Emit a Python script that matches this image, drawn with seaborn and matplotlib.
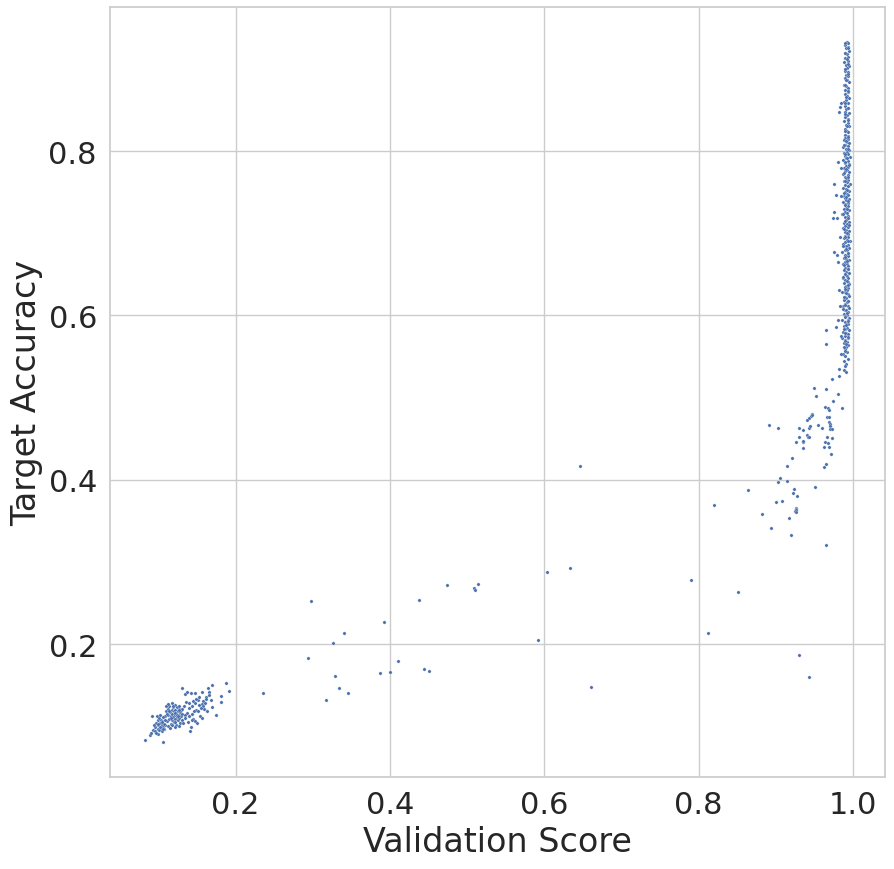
# ============================================
# Validation Score vs Target Accuracy
# Scatter plot
# ============================================

import numpy as np
import matplotlib
matplotlib.use("Agg")
import matplotlib.pyplot as plt
import seaborn as sns


# ============================================
# Data
# ============================================

# Low-score cluster
cluster_x = [
    0.108, 0.110, 0.111, 0.112, 0.113, 0.114, 0.114, 0.115, 0.116, 0.116,
    0.117, 0.117, 0.118, 0.118, 0.119, 0.119, 0.120, 0.120, 0.121, 0.121,
    0.122, 0.122, 0.123, 0.123, 0.124, 0.124, 0.125, 0.125, 0.126, 0.126,
    0.127, 0.127, 0.128, 0.128, 0.129, 0.129, 0.130, 0.130, 0.112, 0.115,
    0.110, 0.109, 0.113, 0.121, 0.126,
    0.083, 0.089, 0.091, 0.093, 0.095, 0.092, 0.098, 0.096, 0.097, 0.099,
    0.099, 0.100, 0.101, 0.101, 0.102, 0.103, 0.103, 0.104, 0.105, 0.105,
    0.106, 0.106, 0.107, 0.107, 0.108, 0.100, 0.097, 0.106, 0.094, 0.102,
    0.131, 0.134, 0.137, 0.142, 0.148, 0.151, 0.149, 0.156, 0.164, 0.170,
    0.165, 0.158, 0.156, 0.158, 0.170, 0.163, 0.149, 0.151, 0.154, 0.156,
    0.145, 0.143, 0.147, 0.150, 0.141, 0.142, 0.132, 0.137, 0.134, 0.131,
    0.133, 0.136, 0.139, 0.144, 0.146, 0.152, 0.160, 0.162, 0.166, 0.175,
    0.181, 0.181, 0.188, 0.192, 0.168, 0.140, 0.138, 0.153, 0.159, 0.145,
    0.111, 0.114, 0.116, 0.119, 0.121, 0.124, 0.127, 0.118, 0.122, 0.125,
    0.104, 0.102, 0.099, 0.106, 0.135, 0.139, 0.143, 0.148, 0.155, 0.161,
]
cluster_y = [
    0.112, 0.118, 0.106, 0.121, 0.114, 0.109, 0.125, 0.117, 0.103, 0.112,
    0.120, 0.128, 0.108, 0.115, 0.123, 0.111, 0.118, 0.105, 0.113, 0.126,
    0.109, 0.120, 0.116, 0.102, 0.123, 0.111, 0.118, 0.107, 0.114, 0.121,
    0.110, 0.125, 0.117, 0.104, 0.112, 0.120, 0.108, 0.115, 0.100, 0.098,
    0.124, 0.102, 0.127, 0.099, 0.100,
    0.083, 0.089, 0.092, 0.095, 0.094, 0.112, 0.112, 0.099, 0.104, 0.097,
    0.107, 0.101, 0.095, 0.110, 0.104, 0.098, 0.108, 0.101, 0.094, 0.106,
    0.099, 0.111, 0.103, 0.096, 0.107, 0.091, 0.092, 0.081, 0.102, 0.114,
    0.146, 0.139, 0.141, 0.140, 0.140, 0.132, 0.133, 0.141, 0.147, 0.150,
    0.142, 0.131, 0.127, 0.125, 0.123, 0.119, 0.120, 0.118, 0.112, 0.110,
    0.109, 0.107, 0.106, 0.104, 0.094, 0.099, 0.104, 0.116, 0.114, 0.121,
    0.125, 0.130, 0.128, 0.124, 0.118, 0.126, 0.128, 0.135, 0.138, 0.113,
    0.137, 0.129, 0.153, 0.143, 0.132, 0.112, 0.105, 0.135, 0.121, 0.131,
    0.115, 0.119, 0.110, 0.124, 0.116, 0.114, 0.120, 0.101, 0.105, 0.112,
    0.105, 0.099, 0.103, 0.097, 0.110, 0.122, 0.115, 0.128, 0.122, 0.133,
]

# Scattered middle points
middle_x = [
    0.6458, 0.6031, 0.6329, 0.7907, 0.2978, 0.3922, 0.3405, 0.3263, 0.4375, 0.4737,
    0.5087, 0.5100, 0.5139, 0.5915, 0.2939, 0.4104, 0.3289, 0.3871, 0.4000, 0.4440,
    0.4505, 0.3340, 0.3457, 0.3172, 0.2357, 0.6600, 0.8127, 0.8515, 0.9433, 0.9304,
]
middle_y = [
    0.4163, 0.2875, 0.2923, 0.2778, 0.2522, 0.2267, 0.2134, 0.2012, 0.2535, 0.2717,
    0.2680, 0.2660, 0.2729, 0.2049, 0.1830, 0.1793, 0.1611, 0.1648, 0.1660, 0.1696,
    0.1672, 0.1465, 0.1405, 0.1320, 0.1405, 0.1478, 0.2134, 0.2632, 0.1599, 0.1866,
]

# Rising part near score 0.9
ramp_x = [
    0.9653, 0.9200, 0.8942, 0.8825, 0.9175, 0.8205, 0.8644, 0.9006, 0.9084, 0.9245,
    0.9255, 0.9262, 0.9266, 0.9266, 0.9227, 0.9240, 0.9279, 0.9511, 0.9033, 0.9058,
    0.9149, 0.9149, 0.9214, 0.9627, 0.9653, 0.9718, 0.9356, 0.9265, 0.9356, 0.9356,
    0.9304, 0.9410, 0.9423, 0.9436, 0.9627, 0.9692, 0.9640, 0.9679, 0.9731, 0.9666,
    0.8916, 0.9032, 0.9304, 0.9356, 0.9430, 0.9442, 0.9410, 0.9436, 0.9462, 0.9475,
    0.9472, 0.9550, 0.9602, 0.9666, 0.9692, 0.9692, 0.9705, 0.9705, 0.9705, 0.9731,
    0.9640, 0.9679, 0.9692, 0.9861, 0.9744, 0.9809, 0.9498, 0.9524, 0.9653, 0.9731,
    0.9822, 0.9880, 0.9910,
]
ramp_y = [
    0.3203, 0.3324, 0.3409, 0.3580, 0.3531, 0.3689, 0.3871, 0.3725, 0.3737, 0.3620,
    0.3655, 0.3640, 0.3628, 0.3610, 0.3834, 0.3883, 0.3798, 0.3908, 0.3968, 0.4017,
    0.3980, 0.4163, 0.4260, 0.4151, 0.4187, 0.4309, 0.4381, 0.4454, 0.4464, 0.4476,
    0.4515, 0.4550, 0.4525, 0.4525, 0.4394, 0.4394, 0.4454, 0.4442, 0.4503, 0.4515,
    0.4661, 0.4625, 0.4625, 0.4600, 0.4625, 0.4650, 0.4722, 0.4746, 0.4770, 0.4795,
    0.4783, 0.4661, 0.4625, 0.4758, 0.4758, 0.4697, 0.4673, 0.4649, 0.4612, 0.4612,
    0.4880, 0.4867, 0.4843, 0.4867, 0.4952, 0.5038, 0.5122, 0.5013, 0.5110, 0.5220,
    0.5268, 0.5340, 0.5310,
]

# Dense column at score ~0.99
column_x = [
    0.992, 0.994, 0.990, 0.993, 0.991, 0.995, 0.989, 0.992, 0.994, 0.990,
    0.993, 0.988, 0.991, 0.995, 0.992, 0.989, 0.994, 0.991, 0.993, 0.990,
    0.992, 0.995, 0.988, 0.991, 0.994, 0.990, 0.993, 0.989, 0.992, 0.995,
    0.991, 0.988, 0.994, 0.990, 0.993, 0.991, 0.989, 0.995, 0.992, 0.990,
    0.994, 0.988, 0.993, 0.991, 0.995, 0.989, 0.992, 0.994, 0.990, 0.993,
    0.990, 0.994, 0.988, 0.992, 0.995, 0.989, 0.993, 0.987, 0.991, 0.995,
    0.992, 0.988, 0.994, 0.990, 0.996, 0.991, 0.987, 0.993, 0.989, 0.995,
    0.991, 0.994, 0.988, 0.992, 0.990, 0.995, 0.987, 0.993, 0.989, 0.991,
    0.994, 0.988, 0.992, 0.996, 0.990, 0.993, 0.987, 0.991, 0.995, 0.989,
    0.992, 0.994, 0.988, 0.990, 0.995, 0.991, 0.987, 0.993, 0.989, 0.994,
    0.991, 0.988, 0.995, 0.990, 0.992, 0.986, 0.994, 0.989, 0.993, 0.991,
    0.995, 0.988, 0.992, 0.990, 0.994, 0.987, 0.991, 0.995, 0.989, 0.993,
    0.990, 0.994, 0.988, 0.992, 0.996, 0.990, 0.987, 0.993, 0.991, 0.995,
    0.989, 0.992, 0.986, 0.994, 0.990, 0.993, 0.988, 0.991, 0.995, 0.989,
    0.992, 0.987, 0.994, 0.990, 0.993, 0.988, 0.991, 0.995, 0.989, 0.992,
    0.994, 0.987, 0.990, 0.993, 0.988, 0.995, 0.991, 0.989, 0.994, 0.992,
    0.990, 0.986, 0.993, 0.995, 0.989, 0.991, 0.988, 0.994, 0.992, 0.990,
    0.993, 0.987, 0.995, 0.989, 0.991, 0.994, 0.988, 0.992, 0.990, 0.995,
    0.986, 0.993, 0.989, 0.991, 0.994, 0.988, 0.992, 0.990, 0.995, 0.987,
    0.991, 0.993, 0.989, 0.994, 0.986, 0.990, 0.992, 0.988, 0.993, 0.991,
    0.989, 0.992, 0.987, 0.990, 0.993, 0.988, 0.991, 0.989,
    0.983, 0.984, 0.982, 0.980, 0.975, 0.978, 0.975, 0.974, 0.979, 0.983,
    0.975, 0.979, 0.981, 0.982, 0.965, 0.965, 0.978, 0.980, 0.982, 0.984,
    0.985, 0.983, 0.985, 0.984,
    0.990, 0.993, 0.989, 0.992, 0.994, 0.990, 0.993, 0.991, 0.989, 0.994,
    0.991, 0.989, 0.993, 0.990, 0.994, 0.992, 0.989, 0.993, 0.991, 0.988,
    0.994, 0.990, 0.992, 0.989, 0.995, 0.991, 0.988, 0.993, 0.990, 0.994,
    0.992, 0.988, 0.991, 0.994, 0.989, 0.992, 0.987, 0.993, 0.990, 0.995,
    0.988, 0.992, 0.990, 0.993, 0.987, 0.991, 0.994, 0.989, 0.992, 0.988,
    0.993, 0.990, 0.987, 0.992, 0.994, 0.989, 0.991, 0.988, 0.993, 0.990,
    0.987, 0.992, 0.989, 0.994, 0.991, 0.988, 0.990, 0.993, 0.989, 0.991,
    0.988, 0.990,
]
column_y = [
    0.933, 0.931, 0.929, 0.927, 0.925, 0.922, 0.920, 0.918, 0.915, 0.913,
    0.910, 0.908, 0.905, 0.903, 0.901, 0.898, 0.896, 0.893, 0.891, 0.889,
    0.886, 0.884, 0.881, 0.879, 0.877, 0.874, 0.872, 0.869, 0.867, 0.865,
    0.862, 0.860, 0.858, 0.855, 0.853, 0.851, 0.848, 0.846, 0.844, 0.841,
    0.839, 0.837, 0.834, 0.832, 0.830, 0.827, 0.825, 0.823, 0.820, 0.818,
    0.816, 0.815, 0.813, 0.811, 0.810, 0.808, 0.806, 0.805, 0.803, 0.801,
    0.799, 0.798, 0.796, 0.794, 0.793, 0.791, 0.789, 0.788, 0.786, 0.784,
    0.782, 0.781, 0.779, 0.777, 0.776, 0.774, 0.772, 0.771, 0.769, 0.767,
    0.765, 0.764, 0.762, 0.760, 0.759, 0.757, 0.755, 0.754, 0.752, 0.750,
    0.748, 0.747, 0.745, 0.743, 0.742, 0.740, 0.738, 0.737, 0.735, 0.733,
    0.731, 0.730, 0.728, 0.726, 0.725, 0.723, 0.721, 0.720, 0.718, 0.716,
    0.714, 0.713, 0.711, 0.709, 0.708, 0.706, 0.704, 0.703, 0.701, 0.699,
    0.697, 0.696, 0.694, 0.692, 0.691, 0.689, 0.687, 0.686, 0.684, 0.682,
    0.680, 0.679, 0.677, 0.675, 0.674, 0.672, 0.670, 0.669, 0.667, 0.665,
    0.663, 0.662, 0.660, 0.658, 0.657, 0.655, 0.653, 0.652, 0.650, 0.648,
    0.646, 0.645, 0.643, 0.641, 0.640, 0.638, 0.636, 0.635, 0.633, 0.631,
    0.629, 0.628, 0.626, 0.624, 0.623, 0.621, 0.619, 0.618, 0.616, 0.614,
    0.612, 0.611, 0.609, 0.607, 0.606, 0.604, 0.602, 0.601, 0.599, 0.597,
    0.595, 0.594, 0.592, 0.590, 0.589, 0.587, 0.585, 0.584, 0.582, 0.580,
    0.578, 0.577, 0.575, 0.573, 0.572, 0.570, 0.568, 0.566, 0.564, 0.562,
    0.559, 0.556, 0.553, 0.550, 0.547, 0.544, 0.541, 0.538,
    0.854, 0.858, 0.848, 0.787, 0.7605, 0.746, 0.726, 0.718, 0.718, 0.696,
    0.6775, 0.673, 0.665, 0.6305, 0.582, 0.565, 0.586, 0.594, 0.5353, 0.745,
    0.780, 0.612, 0.575, 0.553,
    0.9315, 0.926, 0.919, 0.912, 0.906, 0.900, 0.894, 0.887, 0.880, 0.873,
    0.866, 0.859, 0.852, 0.845, 0.838, 0.831, 0.824, 0.817, 0.812, 0.807,
    0.802, 0.797, 0.792, 0.787, 0.783, 0.778, 0.773, 0.768, 0.763, 0.758,
    0.753, 0.749, 0.744, 0.739, 0.734, 0.729, 0.724, 0.719, 0.715, 0.710,
    0.705, 0.700, 0.695, 0.690, 0.685, 0.681, 0.676, 0.671, 0.666, 0.661,
    0.656, 0.651, 0.647, 0.642, 0.637, 0.632, 0.627, 0.622, 0.617, 0.613,
    0.608, 0.603, 0.598, 0.593, 0.588, 0.583, 0.579, 0.574, 0.569, 0.565,
    0.561, 0.557,
]


# ============================================
# Plot
# ============================================

def plot_scatter():
    """
    Scatter of validation score against target accuracy
    """

    sns.set_theme(style="whitegrid", font_scale=2)

    x = np.array(cluster_x + middle_x + ramp_x + column_x)
    y = np.array(cluster_y + middle_y + ramp_y + column_y)

    fig, ax = plt.subplots(figsize=(8.95, 8.7), dpi=100)

    sns.scatterplot(
        x=x,
        y=y,
        s=6,
        color="#4C72B0",
        ax=ax
    )

    ax.set_xlabel("Validation Score")

    ax.set_ylabel("Target Accuracy")

    ax.set_xticks([0.2, 0.4, 0.6, 0.8, 1.0])

    ax.set_yticks([0.2, 0.4, 0.6, 0.8])

    fig.subplots_adjust(
        left=0.123,
        right=0.989,
        bottom=0.106,
        top=0.991
    )

    # Save figure
    fig.savefig("out.png", dpi=100)


if __name__ == "__main__":

    plot_scatter()
